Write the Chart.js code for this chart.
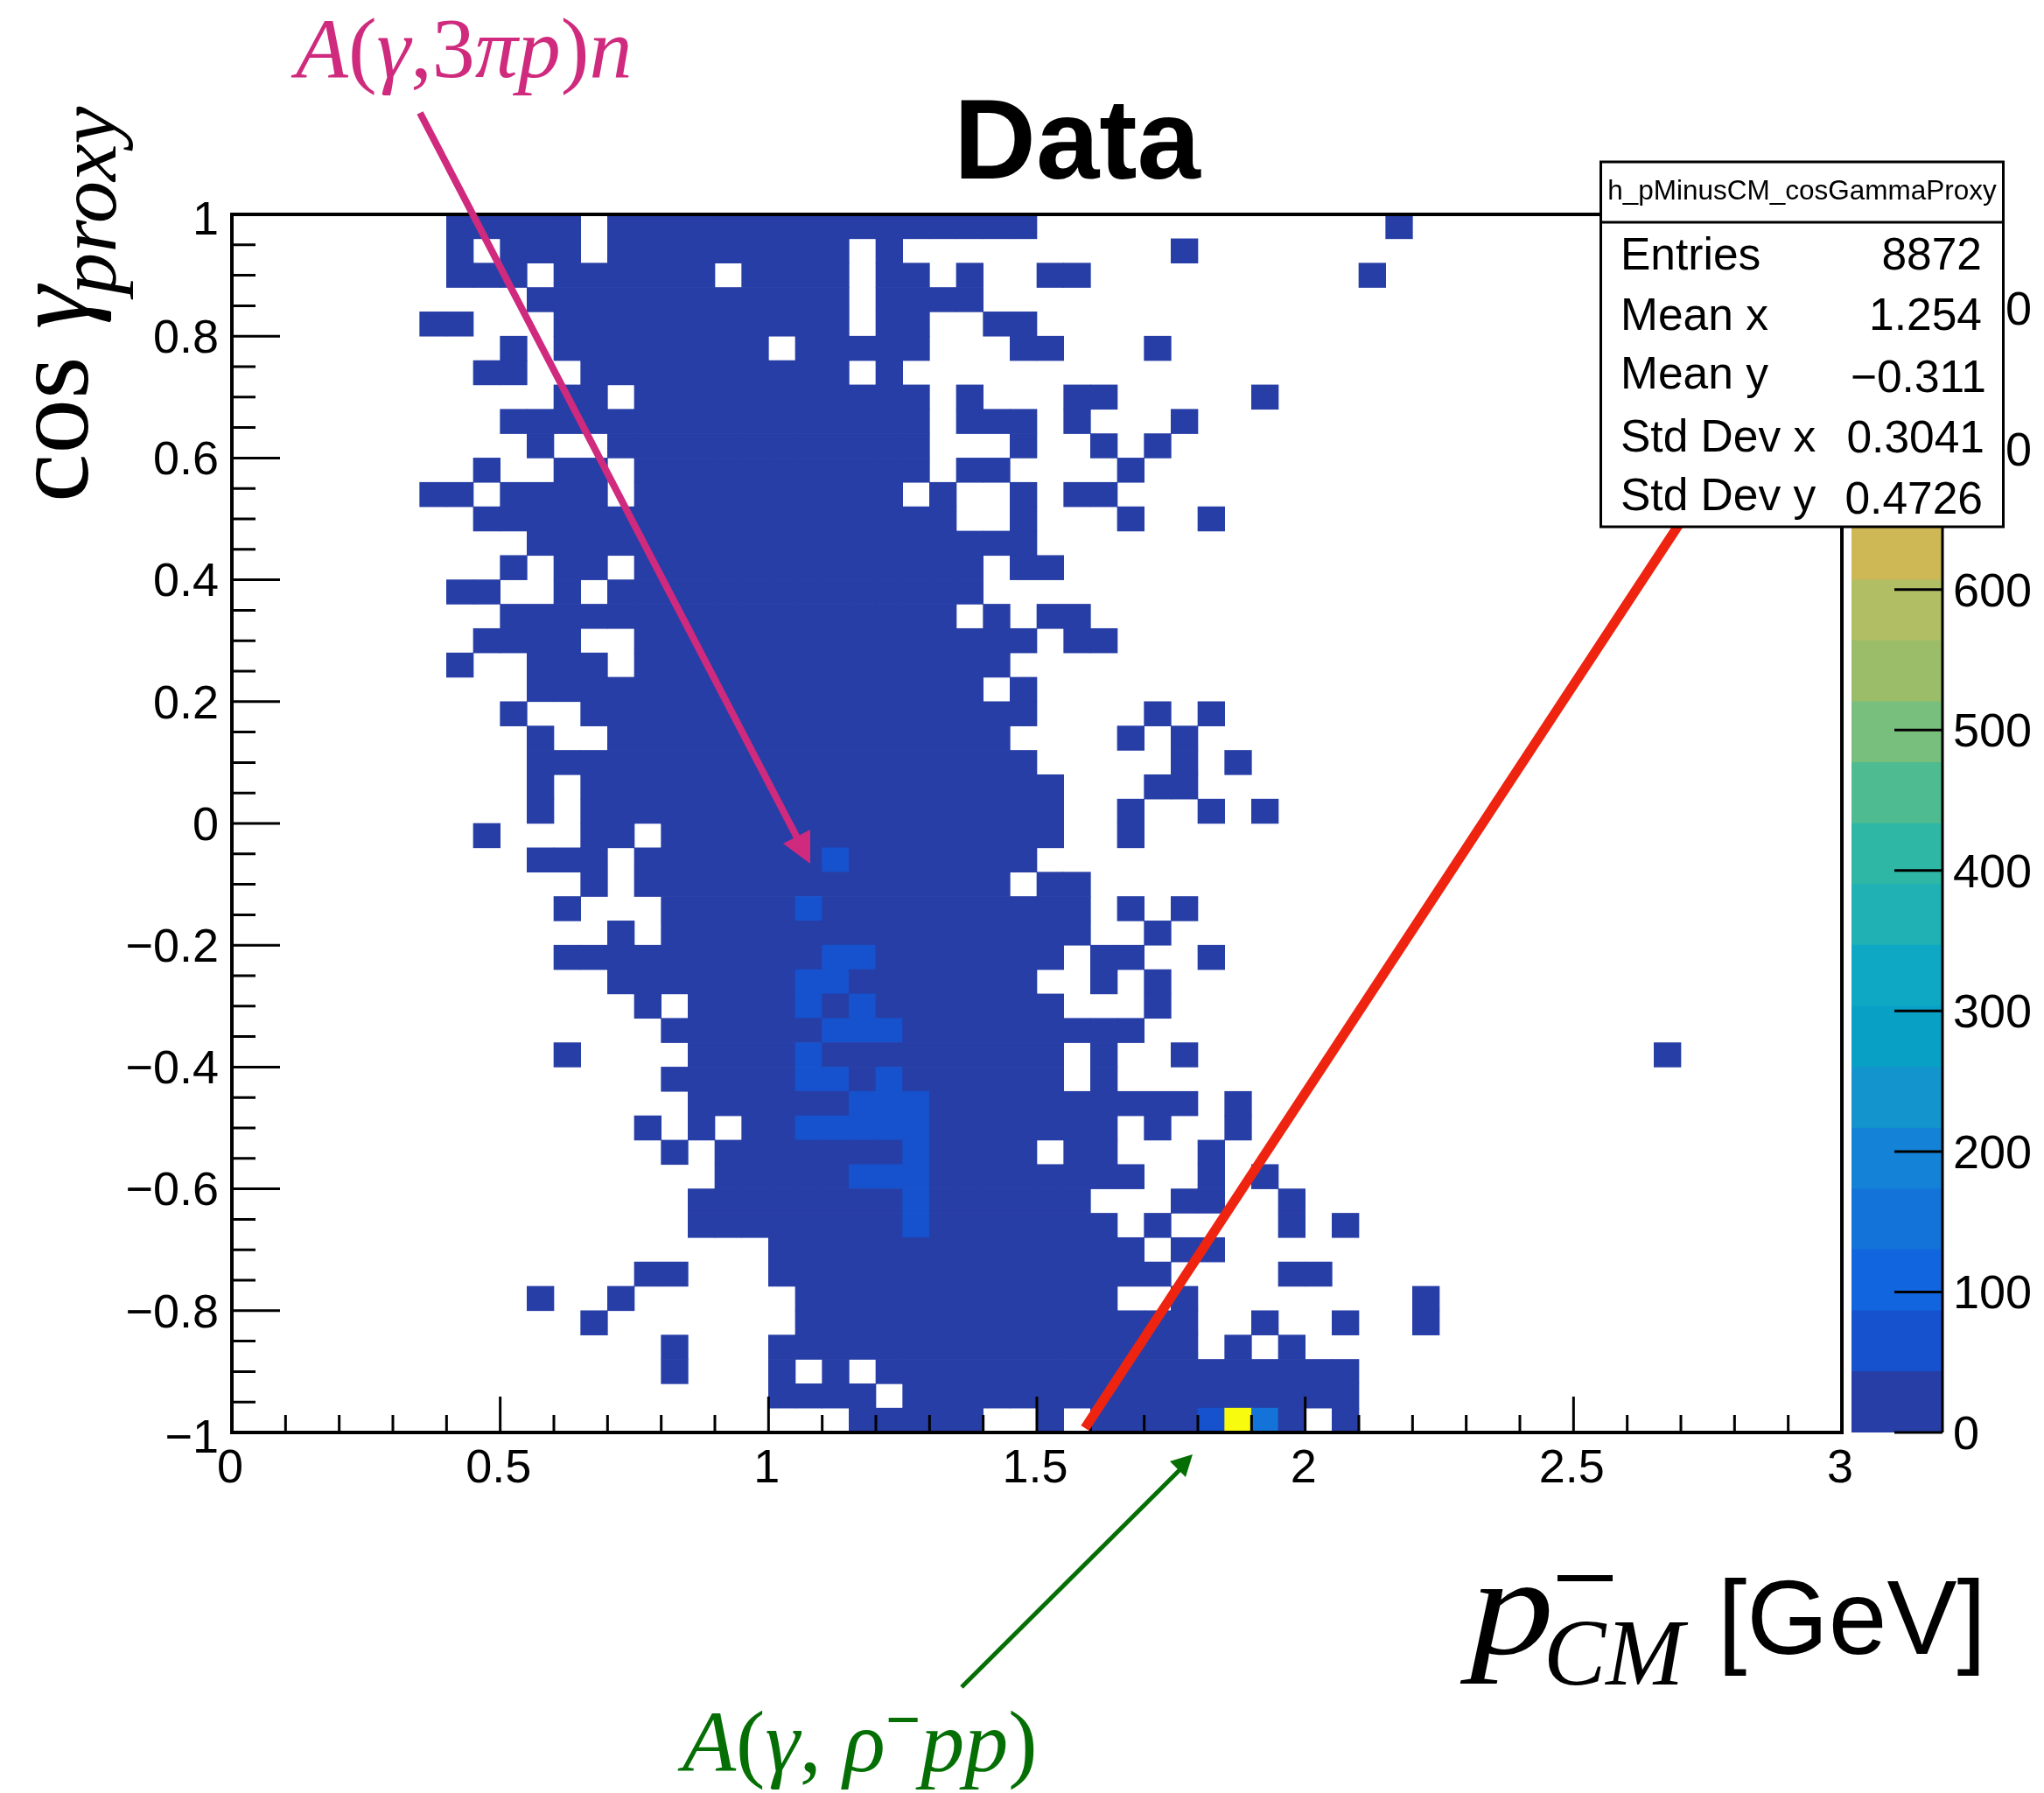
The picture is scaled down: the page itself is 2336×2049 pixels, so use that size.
<!DOCTYPE html>
<html>
<head>
<meta charset="utf-8">
<script src="https://cdn.jsdelivr.net/npm/chart.js@4"></script>
<style>
html,body{margin:0;padding:0;background:#fff;}
#stage{position:relative;width:2336px;height:2049px;overflow:hidden;background:#fff;}
canvas{position:absolute;top:0;}
#main{left:0;}
#zbar{left:2105px;}
svg{position:absolute;left:0;top:0;}
text{white-space:pre;}
</style>
</head>
<body>
<div id="stage">
<canvas id="main" width="2336" height="2049"></canvas>
<canvas id="zbar" width="231" height="2049"></canvas>
<svg width="2336" height="2049" viewBox="0 0 2336 2049" xmlns="http://www.w3.org/2000/svg">
  <line x1="480" y1="129" x2="915" y2="965" stroke="#CF2A7D" stroke-width="8"/>
  <polygon points="926,987 895,964 926,948" fill="#CF2A7D"/>
  <line x1="1240" y1="1632" x2="1925" y2="590" stroke="#EF2410" stroke-width="11"/>
  <line x1="1099" y1="1928" x2="1350" y2="1678" stroke="#056F05" stroke-width="5"/>
  <polygon points="1363,1662 1337,1670 1355,1688" fill="#056F05"/>

  <g font-family="'Liberation Serif',serif" fill="#CF2A7D" font-size="98">
    <text x="338" y="88"><tspan font-style="italic">A</tspan>(<tspan font-style="italic">γ</tspan>,3<tspan font-style="italic">πp</tspan>)<tspan font-style="italic">n</tspan></text>
  </g>
  <g font-family="'Liberation Serif',serif" fill="#056F05" font-size="100">
    <text x="780" y="2024"><tspan font-style="italic">A</tspan>(<tspan font-style="italic">γ</tspan>, <tspan font-style="italic">ρ</tspan><tspan font-size="71" font-weight="700" dy="-35">−</tspan><tspan font-style="italic" dy="35">pp</tspan>)</text>
  </g>

  <text x="1090" y="204" font-family="'Liberation Sans',sans-serif" font-weight="700" font-size="130" fill="#000">Data</text>

  <g transform="translate(100,574) rotate(-90)" font-family="'Liberation Serif',serif" fill="#000">
    <text x="0" y="0" font-size="125">cos <tspan font-style="italic" font-size="125">γ</tspan><tspan font-style="italic" font-size="96" dx="-10" dy="32">proxy</tspan></text>
  </g>

  <g font-family="'Liberation Serif',serif" fill="#000">
    <text x="1680" y="1890" font-style="italic" font-size="160" textLength="96" lengthAdjust="spacingAndGlyphs">p</text>
    <text x="1764" y="1925" font-style="italic" font-size="107">CM</text>
    <rect x="1780" y="1800" width="63" height="7"/>
  </g>
  <text x="1963" y="1890" font-family="'Liberation Sans',sans-serif" font-size="120" fill="#000">[GeV]</text>

  <g id="stats" font-family="'Liberation Sans',sans-serif" fill="#000">
    <rect x="1829.5" y="185" width="460" height="417" fill="#fff" stroke="#000" stroke-width="3"/>
    <line x1="1829.5" y1="254" x2="2289.5" y2="254" stroke="#000" stroke-width="3"/>
    <text x="2059.5" y="228" text-anchor="middle" font-size="31.5">h_pMinusCM_cosGammaProxy</text>
    <g font-size="51.5">
      <text x="1852" y="308">Entries</text><text x="2265" y="308" text-anchor="end">8872</text>
      <text x="1852" y="377">Mean x</text><text x="2265" y="377" text-anchor="end">1.254</text>
      <text x="1852" y="444">Mean y</text><text x="2270" y="448" text-anchor="end">−0.311</text>
      <text x="1852" y="516">Std Dev x</text><text x="2268" y="517" text-anchor="end">0.3041</text>
      <text x="1852" y="583">Std Dev y</text><text x="2266" y="587" text-anchor="end">0.4726</text>
    </g>
  </g>
</svg>
</div>
<script>
// Histogram binning: x bin width 0.05 (60 bins), y bin height 0.04 (50 bins, row 0 at the top)
const xBinWidth = 0.05;
const yBinHeight = 0.04;
const yTop = 1;

// Occupied x-bin runs [first,last] per row
const occupiedRuns = [
 [[8,12],[14,29],[43,43]],
 [[8,8],[10,12],[14,22],[24,24],[35,35]],
 [[8,10],[12,17],[19,22],[24,25],[27,27],[30,31],[42,42]],
 [[11,22],[24,27]],
 [[7,8],[12,22],[24,25],[28,29]],
 [[10,10],[12,19],[21,25],[29,30],[34,34]],
 [[9,10],[13,22],[24,24]],
 [[12,13],[15,25],[27,27],[31,32],[38,38]],
 [[10,25],[27,29],[31,31],[35,35]],
 [[11,11],[14,25],[29,29],[32,32],[34,34]],
 [[9,9],[12,13],[15,25],[27,28],[33,33]],
 [[7,8],[10,13],[15,24],[26,26],[29,29],[31,32]],
 [[9,26],[29,29],[33,33],[36,36]],
 [[11,29]],
 [[10,10],[12,13],[15,27],[29,30]],
 [[8,9],[12,12],[14,27]],
 [[10,26],[28,28],[30,31]],
 [[9,12],[15,29],[31,32]],
 [[8,8],[11,13],[15,28]],
 [[11,27],[29,29]],
 [[10,10],[13,29],[34,34],[36,36]],
 [[11,11],[14,28],[33,33],[35,35]],
 [[11,29],[35,35],[37,37]],
 [[11,11],[13,30],[34,35]],
 [[11,11],[13,30],[33,33],[36,36],[38,38]],
 [[9,9],[13,14],[16,30],[33,33]],
 [[11,13],[15,29]],
 [[13,13],[15,28],[30,31]],
 [[12,12],[16,31],[33,33],[35,35]],
 [[14,14],[16,31],[34,34]],
 [[12,30],[32,33],[36,36]],
 [[14,29],[32,32],[34,34]],
 [[15,15],[17,30],[34,34]],
 [[16,33]],
 [[12,12],[17,30],[32,32],[35,35],[53,53]],
 [[16,30],[32,32]],
 [[17,35],[37,37]],
 [[15,15],[17,17],[19,32],[34,34],[37,37]],
 [[16,16],[18,29],[31,32],[36,36]],
 [[18,33],[36,36],[38,38]],
 [[17,31],[35,36],[39,39]],
 [[17,32],[34,34],[39,39],[41,41]],
 [[20,33],[35,36]],
 [[15,16],[20,34],[39,40]],
 [[11,11],[14,14],[21,32],[35,35],[44,44]],
 [[13,13],[21,35],[38,38],[41,41],[44,44]],
 [[16,16],[20,35],[37,37],[39,39]],
 [[16,16],[20,20],[22,22],[24,41]],
 [[20,23],[25,41]],
 [[23,27],[30,30],[32,39],[41,41]]
];

// Typical content of an ordinary occupied bin
const baseCount = 15;
// Bins that stand out: [row, xBin, estimated count]
const hotCells = [
 [26,22,60],[28,21,60],[30,22,60],[30,23,60],[31,21,60],[31,22,60],
 [32,21,60],[32,23,60],[33,22,60],[33,23,60],[33,24,60],[34,21,60],
 [35,21,60],[35,22,60],[35,24,60],[36,23,60],[36,24,60],[36,25,60],
 [37,21,60],[37,22,60],[37,23,60],[37,24,60],[37,25,60],[38,25,60],
 [39,23,60],[39,24,60],[39,25,60],[40,25,60],[41,25,60],
 [49,36,65],[49,37,860],[49,38,150]
];

// Palette bands of the colour bar, bottom to top
const zMax = 867;
const paletteColors = [
 '#273EA6','#1652CD','#1166DF','#1373D9','#1482D6','#1494CC','#09A0C6','#0EA8C4',
 '#20B1B4','#2EB7A4','#4EBB91','#78BE7C','#9BBD69','#B2BE64','#CEB755','#E5B941',
 '#FABE3C','#FECD2D','#F5E11E','#F9FB0E'
];
const zTickStep = 100;
const xTickStep = 0.5;
const yTickStep = 0.2;
const xMinorStep = 0.1;
const yMinorStep = 0.05;

const bandWidth = zMax / paletteColors.length;
const colorFor = c => paletteColors[Math.min(paletteColors.length - 1, Math.floor(c / bandWidth))];
const hotKey = {};
hotCells.forEach(([r, i, c]) => { hotKey[r + ':' + i] = c; });

const cells = [];
occupiedRuns.forEach((runs, r) => {
  runs.forEach(([a, b]) => {
    for (let i = a; i <= b; i++) {
      const count = hotKey[r + ':' + i] ?? baseCount;
      cells.push({
        x: (i + 0.5) * xBinWidth,
        y: [yTop - (r + 1) * yBinHeight, yTop - r * yBinHeight],
        count
      });
    }
  });
});

const fmt = v => {
  const n = Math.round(v * 10) / 10;
  return n === 0 ? '0' : String(n).replace('-', '\u2212');
};
// The end labels of the y axis sit a little lower than the others, as in ROOT
const fmtY = v => {
  const s = fmt(v);
  return Math.abs(Math.abs(v) - 1) < 1e-9 ? ['', s] : s;
};
const tickFont = { family: "'Liberation Sans', sans-serif", size: 54 };

const rootAxes = {
  id: 'rootAxes',
  afterDatasetsDraw(chart) {
    const { ctx, chartArea: a, scales: { x, y } } = chart;
    ctx.save();
    ctx.strokeStyle = '#000';
    ctx.lineWidth = 3;
    ctx.beginPath();
    for (let k = 0; k <= 30; k++) {
      const v = k * xMinorStep;
      const px = x.getPixelForValue(v);
      const len = k % 5 === 0 ? 41 : 20;
      ctx.moveTo(px, a.bottom); ctx.lineTo(px, a.bottom - len);
    }
    for (let k = 0; k <= 40; k++) {
      const v = -1 + k * yMinorStep;
      const py = y.getPixelForValue(v);
      const len = k % 4 === 0 ? 55 : 27;
      ctx.moveTo(a.left, py); ctx.lineTo(a.left + len, py);
    }
    ctx.stroke();
    ctx.lineWidth = 4;
    ctx.strokeRect(a.left, a.top, a.right - a.left, a.bottom - a.top);
    ctx.restore();
  }
};

new Chart(document.getElementById('main'), {
  type: 'bar',
  data: {
    datasets: [{
      data: cells,
      grouped: false,
      barPercentage: 1,
      categoryPercentage: 1,
      borderWidth: 0,
      backgroundColor: cells.map(c => colorFor(c.count))
    }]
  },
  options: {
    responsive: false,
    devicePixelRatio: 1,
    animation: false,
    layout: { padding: { top: 245, right: 231, left: 0, bottom: 0 } },
    plugins: { legend: { display: false }, tooltip: { enabled: false } },
    scales: {
      x: {
        type: 'linear', min: 0, max: 3, offset: false,
        afterFit: s => { s.height = 412; },
        grid: { display: false, offset: false, drawTicks: false },
        border: { display: false },
        ticks: { stepSize: xTickStep, autoSkip: false, maxRotation: 0, padding: 10, labelOffset: -2, font: tickFont, color: '#000', callback: fmt }
      },
      y: {
        type: 'linear', min: -1, max: 1,
        afterFit: s => { s.width = 265; },
        grid: { display: false, drawTicks: false },
        border: { display: false },
        ticks: {
          stepSize: yTickStep, autoSkip: false, padding: 15, labelOffset: 4, color: '#000', callback: fmtY,
          font: ctx => ({ ...tickFont, lineHeight: ctx.tick && Math.abs(Math.abs(ctx.tick.value) - 1) < 1e-9 ? 0.15 : 1.2 })
        }
      }
    }
  },
  plugins: [rootAxes]
});

const zBands = paletteColors.map((col, k) => ({
  data: [[k * bandWidth, (k + 1) * bandWidth]],
  backgroundColor: col,
  borderWidth: 0,
  grouped: false,
  barPercentage: 1,
  categoryPercentage: 1
}));

const zAxisDraw = {
  id: 'zAxisDraw',
  afterDatasetsDraw(chart) {
    const { ctx, chartArea: a, scales: { y } } = chart;
    ctx.save();
    ctx.strokeStyle = '#000';
    ctx.lineWidth = 3;
    ctx.beginPath();
    ctx.moveTo(a.right, a.top); ctx.lineTo(a.right, a.bottom);
    y.ticks.forEach(t => {
      const py = y.getPixelForValue(t.value);
      ctx.moveTo(a.right, py); ctx.lineTo(a.right - 55, py);
    });
    ctx.stroke();
    ctx.restore();
  }
};

new Chart(document.getElementById('zbar'), {
  type: 'bar',
  data: { labels: ['z'], datasets: zBands },
  options: {
    responsive: false,
    devicePixelRatio: 1,
    animation: false,
    layout: { padding: { top: 245, left: 11, bottom: 0, right: 0 } },
    plugins: { legend: { display: false }, tooltip: { enabled: false } },
    scales: {
      x: {
        display: true,
        afterFit: s => { s.height = 412; },
        grid: { display: false, drawTicks: false },
        border: { display: false },
        ticks: { display: false }
      },
      y: {
        position: 'right', min: 0, max: zMax,
        afterFit: s => { s.width = 116; },
        afterBuildTicks: s => { s.ticks = s.ticks.filter(t => t.value % zTickStep === 0); },
        grid: { display: false, drawTicks: false },
        border: { display: false },
        ticks: { stepSize: zTickStep, autoSkip: false, padding: 12, labelOffset: 4, font: tickFont, color: '#000', callback: v => String(v) }
      }
    }
  },
  plugins: [zAxisDraw]
});
</script>
</body>
</html>
